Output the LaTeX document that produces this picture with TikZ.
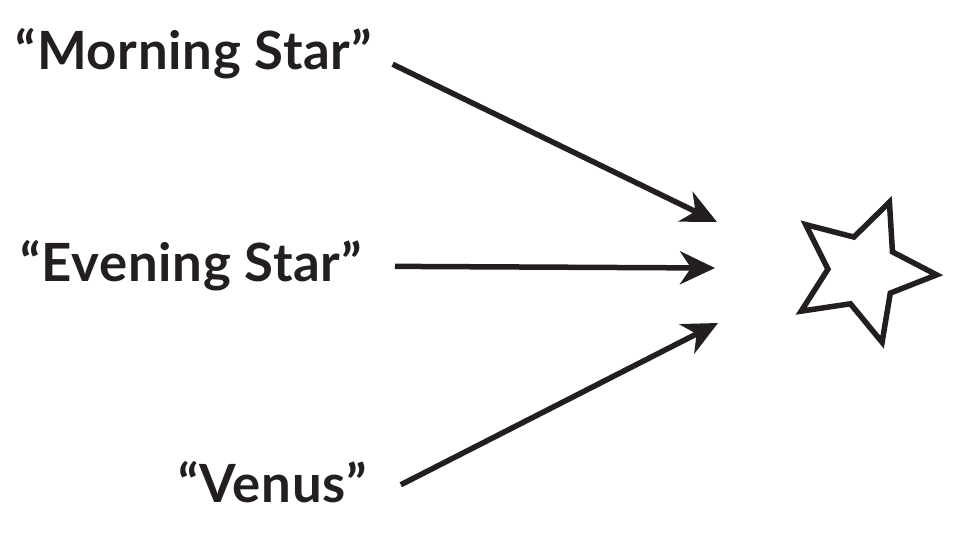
\documentclass[tikz,border=0pt]{standalone}
\usepackage{fontspec}
\setmainfont{Lato}[LetterSpace=1.4]
\usetikzlibrary{arrows.meta,shapes.geometric}
\definecolor{ink}{RGB}{35,31,32}
\tikzset{
  starname/.style={anchor=base east,inner sep=0pt,text=ink,
    font=\fontsize{30}{36}\selectfont\bfseries},
  pointer/.style={draw=ink,line width=0.11cm,
    -{Stealth[length=0.7cm,width=0.66cm,inset=0.22cm]}},
}
\begin{document}
\begin{tikzpicture}[x=0.02cm,y=-0.02cm]
  \useasboundingbox (0,0) rectangle (960,540);
  \pgfmathsetmacro{\droite}{372}
  \pgfmathsetmacro{\pointe}{717}
  \node[starname] (morning) at (\droite,70) {“Morning Star”};
  \node[starname] (evening) at (362,282) {“Evening Star”};
  \node[starname] (venus) at (367,502) {“Venus”};
  \node[star,star points=5,star point ratio=2.1,minimum size=2.95cm,
    inner sep=0pt,rotate=-21,draw=ink,line width=0.11cm] (planet) at (863,271) {};
  \coordinate (mtip) at (\pointe,222);
  \coordinate (etip) at (715,268);
  \coordinate (vtip) at (718,323);
  \draw[pointer,shorten <=0.46cm] (morning.east) -- (mtip);
  \draw[pointer,shorten <=0.66cm] (evening.east) -- (etip);
  \draw[pointer,shorten <=0.76cm] (venus.base east) -- (vtip);
\end{tikzpicture}
\end{document}
